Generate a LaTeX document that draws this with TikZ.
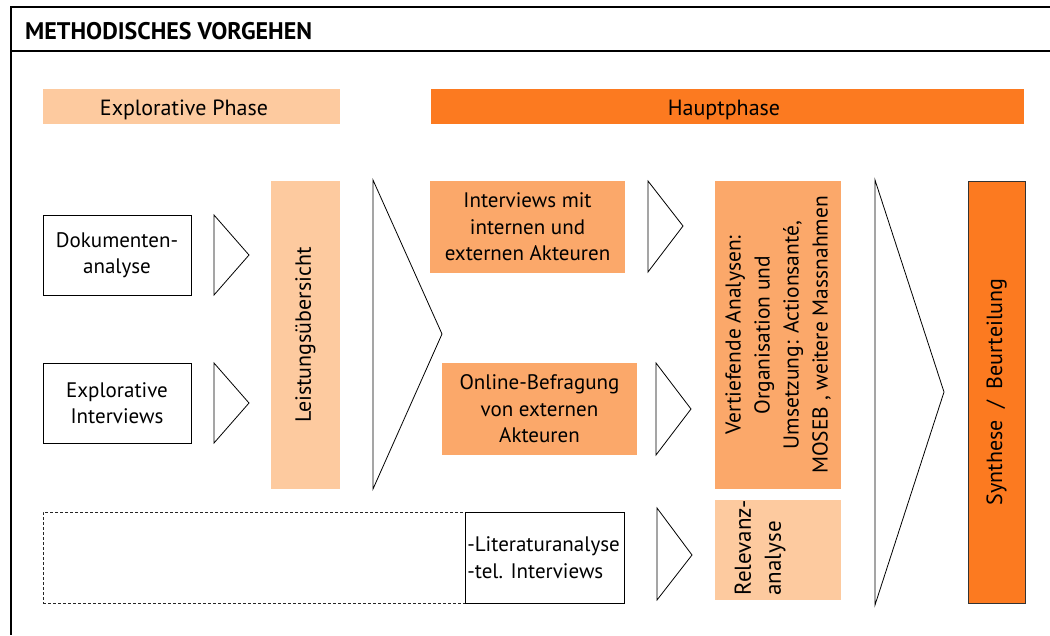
\documentclass[tikz,border=0pt]{standalone}
\usepackage{fontspec}
\setmainfont{PT Sans}
\definecolor{lightor}{HTML}{FDCA9F}
\definecolor{midor}{HTML}{FBA86A}
\definecolor{darkor}{HTML}{FC7A20}
\begin{document}
\begin{tikzpicture}[x=1pt,y=-1pt,
  txt/.style={font=\fontsize{21}{26.5}\selectfont},
  bigtxt/.style={font=\fontsize{22}{26.5}\selectfont},
  wbox/.style={draw=black,line width=0.8pt,fill=white,inner sep=0pt,txt,align=center},
  fbox/.style={inner sep=0pt,txt,align=center},
  tri/.style={draw=black,line width=0.8pt,fill=white,line join=miter}
]
\useasboundingbox (0,0) rectangle (1050,635);
\fill[white] (0,0) rectangle (1050,635);
% frame
\draw[line width=2pt] (1050,7) -- (11,7) -- (11,635);
\draw[line width=2pt] (11,51) -- (1050,51);
\node[anchor=base west, font=\bfseries\fontsize{24}{28}\selectfont, inner sep=0pt] (title) at (25,39) {METHODISCHES VORGEHEN};
% phase bars
\node[fbox, fill=lightor, minimum width=297, minimum height=35] (explo) at (191.5,106.5) {};
\node[bigtxt, anchor=base, inner sep=0pt] (exploT) at (184,115) {Explorative Phase};
\node[fbox, fill=darkor, minimum width=593, minimum height=35] (haupt) at (727.5,106.5) {};
\node[bigtxt, anchor=base, inner sep=0pt] (hauptT) at (724,115) {Hauptphase};
% left column
\node[wbox, minimum width=148, minimum height=80] (dok) at (117,255) {Dokumenten-\\analyse};
\node[wbox, minimum width=148, minimum height=80] (expint) at (117,403) {Explorative\\Interviews};
\draw[tri] (214,215) -- (249,255) -- (214,295) -- cycle;
\draw[tri] (214,363) -- (249,403) -- (214,443) -- cycle;
% Leistungsuebersicht
\node[fbox, fill=lightor, minimum width=69, minimum height=308] (leist) at (305.5,335) {};
\node[bigtxt, rotate=90, inner sep=0pt] (leistT) at (leist.center) {Leistungsübersicht};
% big triangle 1
\draw[tri] (373,180) -- (442,334) -- (373,489) -- cycle;
% middle boxes
\node[fbox, fill=midor, minimum width=195, minimum height=92] (intv) at (527.5,227) {Interviews mit\\internen und\\externen Akteuren};
\node[fbox, fill=midor, minimum width=195, minimum height=92] (online) at (539.5,409) {Online-Befragung\\von externen\\Akteuren};
\draw[tri] (648,181) -- (683,226) -- (648,272) -- cycle;
\draw[tri] (656,363) -- (691,409) -- (656,455) -- cycle;
% dashed + literature
\node[draw=black!85, line width=0.7pt, dash pattern=on 3pt off 2pt, minimum width=422, minimum height=91, inner sep=0pt] (dashbox) at (254,557.5) {};
\node[wbox, minimum width=159, minimum height=91] (lit) at (544.5,557.5) {};
\node[txt, align=left, anchor=west, inner sep=0pt] (litT) at ([xshift=2.5pt]lit.west) {-Literaturanalyse\\-tel. Interviews};
\draw[tri] (657,508) -- (692,555) -- (657,600) -- cycle;
% right column
\node[fbox, fill=midor, minimum width=126, minimum height=308] (vert) at (778,335) {};
\node[rotate=90, align=center, inner sep=0pt, font=\fontsize{21.5}{29}\selectfont] (vertT) at (vert.center) {Vertiefende Analysen:\\Organisation und\\Umsetzung: Actionsanté,\\MOSEB , weitere Massnahmen};
\node[fbox, fill=lightor, minimum width=126, minimum height=100] (relev) at (778,550) {};
\node[rotate=90, align=left, inner sep=0pt, font=\fontsize{23}{30}\selectfont] (relevT) at (760,548) {Relevanz-\\analyse};
% big triangle 2
\draw[tri] (875,180) -- (944,392) -- (875,605) -- cycle;
% synthesis
\node[draw=black!80, line width=0.8pt, fill=darkor, minimum width=57, minimum height=422, inner sep=0pt] (synth) at (996.5,392) {};
\node[bigtxt, rotate=90, inner sep=0pt] (synthT) at (synth.center) {Synthese\ \ /\ \ Beurteilung};
\end{tikzpicture}
\end{document}
